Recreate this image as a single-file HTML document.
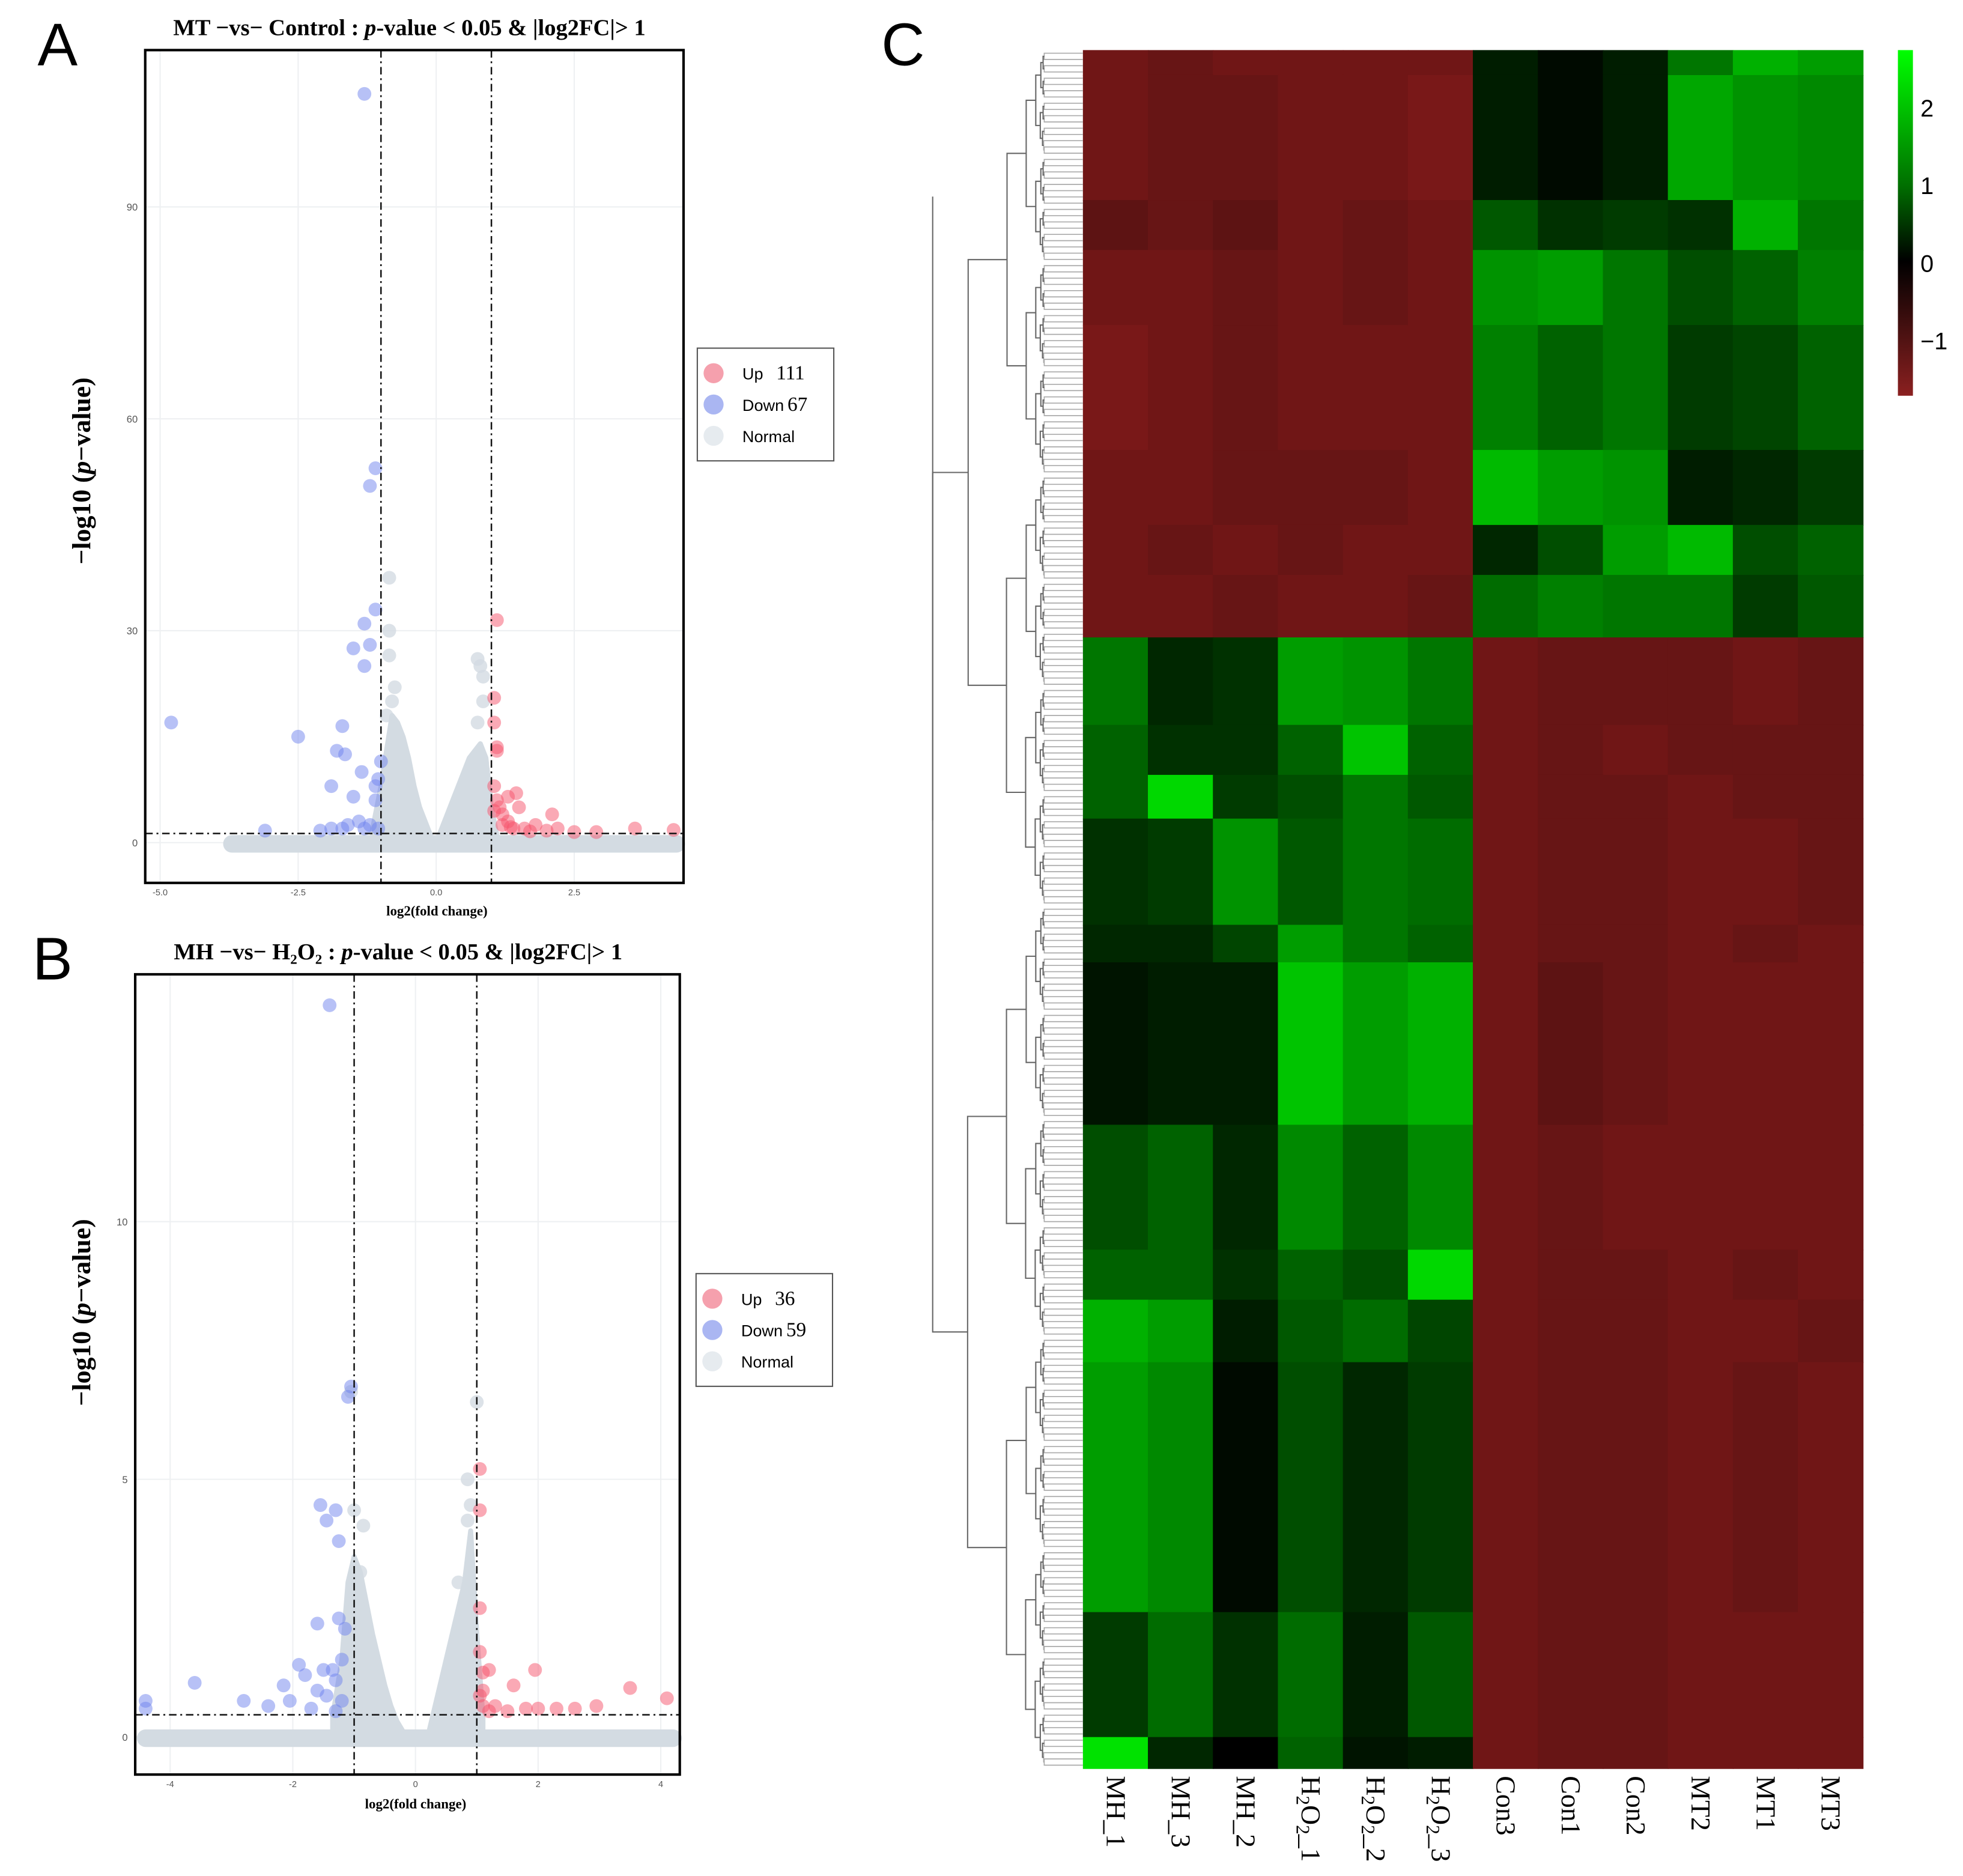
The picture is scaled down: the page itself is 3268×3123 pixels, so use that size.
<!DOCTYPE html>
<html><head><meta charset="utf-8"><style>
html,body{margin:0;padding:0;background:#fff;}
svg{display:block;}
text{font-family:"Liberation Sans",sans-serif;}
.serif{font-family:"Liberation Serif",serif;}
</style></head><body>
<svg id="fig" width="3268" height="3123" viewBox="0 0 1568 1498" preserveAspectRatio="none" xmlns="http://www.w3.org/2000/svg">
<rect width="1568" height="1498" fill="#fff"/>
<text x="30" y="52" font-size="48">A</text>
<text x="26" y="782" font-size="48">B</text>
<text x="704" y="52" font-size="48">C</text>
<text class="serif" x="327" y="28" font-size="18.5" font-weight="bold" text-anchor="middle">MT −vs− Control : <tspan font-style="italic">p</tspan>-value &lt; 0.05 &amp; |log2FC|&gt; 1</text>
<text class="serif" x="318" y="766" font-size="18.5" font-weight="bold" text-anchor="middle">MH −vs− H₂O₂ : <tspan font-style="italic">p</tspan>-value &lt; 0.05 &amp; |log2FC|&gt; 1</text>
<text class="serif" transform="translate(72,376) rotate(-90)" font-size="21" font-weight="bold" text-anchor="middle">−log10 (<tspan font-style="italic">p</tspan>−value)</text>
<text class="serif" transform="translate(72,1048) rotate(-90)" font-size="21" font-weight="bold" text-anchor="middle">−log10 (<tspan font-style="italic">p</tspan>−value)</text>
<text class="serif" x="349" y="731" font-size="11" font-weight="bold" text-anchor="middle">log2(fold change)</text>
<text class="serif" x="332" y="1444" font-size="11" font-weight="bold" text-anchor="middle">log2(fold change)</text>
<g id="panelA"></g>
<g id="panelB"></g>
<g id="heat"></g>
<g id="dendro"></g>
<g id="cbar"></g>
<g id="legA"></g>
<g id="legB"></g>
<g id="collabels"></g>
</svg>
<script>
// ---------- Volcano A data ----------
const aXTicks=[-5.0,-2.5,0.0,2.5];
const aYTicks=[0,30,60,90];
const aUp=[[1.1,31.5],[1.05,20.5],[1.05,17],[1.1,13.5],[1.1,13],[1.05,8],[1.1,6],[1.3,6.5],[1.45,7],[1.5,5],[1.2,4],[1.3,3],[1.6,2],[1.8,2.5],[2.1,4],[2.2,2],[2.5,1.5],[2.9,1.5],[3.6,2],[4.3,1.8],[1.4,2],[1.2,2.5],[1.7,1.6],[2.0,1.7],[1.05,4.5],[1.15,5],[1.35,2.2]];
const aDown=[[-1.3,106],[-1.1,53],[-1.2,50.5],[-1.1,33],[-1.3,31],[-1.5,27.5],[-1.2,28],[-1.3,25],[-4.8,17],[-2.5,15],[-1.7,16.5],[-1.8,13],[-1.65,12.5],[-1.0,11.5],[-1.35,10],[-1.05,9],[-1.9,8],[-1.1,8],[-1.5,6.5],[-1.1,6],[-1.4,3],[-1.6,2.5],[-1.2,2.5],[-1.9,2],[-2.1,1.7],[-3.1,1.7],[-1.05,2],[-1.3,2],[-1.7,2]];
const aGray=[[-0.85,37.5],[-0.85,30],[-0.85,26.5],[0.75,26],[0.8,25],[0.85,23.5],[-0.75,22],[-0.8,20],[0.85,20],[0.75,17],[-0.9,18]];
const aLeftX=[-1.15,-1.0,-0.9,-0.8,-0.7,-0.6,-0.5,-0.4,-0.3,-0.2,-0.1,0];
const aLeftY=[2,8,13,18,17,15,12,8,5,3,1,0];
const aRightX=[0,0.1,0.2,0.3,0.4,0.5,0.6,0.7,0.8,0.9,1.0,1.1];
const aRightY=[0,2,4,6,8,10,12,13,14,12,5,1];
const aCounts=[111,67];
// ---------- Volcano B data ----------
const bXTicks=[-4,-2,0,2,4];
const bYTicks=[0,5,10];
const bUp=[[1.05,5.2],[1.05,4.4],[1.05,2.5],[1.05,1.65],[1.2,1.3],[1.1,1.25],[1.95,1.3],[1.6,1.0],[1.1,0.9],[1.05,0.8],[1.1,0.6],[1.3,0.6],[1.5,0.5],[2.0,0.55],[2.3,0.55],[2.6,0.55],[2.95,0.6],[3.5,0.95],[4.1,0.75],[1.2,0.5],[1.8,0.55]];
const bDown=[[-1.4,14.2],[-1.05,6.8],[-1.1,6.6],[-1.55,4.5],[-1.3,4.4],[-1.45,4.2],[-1.25,3.8],[-1.6,2.2],[-1.25,2.3],[-1.15,2.1],[-1.2,1.5],[-1.9,1.4],[-1.8,1.2],[-1.5,1.3],[-1.35,1.3],[-1.3,1.1],[-2.15,1.0],[-1.6,0.9],[-1.45,0.8],[-3.6,1.05],[-2.8,0.7],[-2.4,0.6],[-2.05,0.7],[-1.2,0.7],[-4.4,0.55],[-4.4,0.7],[-1.7,0.55],[-1.3,0.5]];
const bGray=[[-1.05,6.7],[1.0,6.5],[-0.85,4.1],[-1.0,4.4],[0.85,5],[0.9,4.5],[0.85,4.2],[0.7,3],[-0.9,3.2]];
const bLeftX=[-1.35,-1.2,-1.1,-1,-0.9,-0.8,-0.7,-0.6,-0.5,-0.4,-0.3,-0.2,-0.1];
const bLeftY=[0.4,1.5,3,3.5,3.2,2.6,2,1.5,1,0.6,0.3,0.1,0];
const bRightX=[0.2,0.3,0.4,0.5,0.6,0.7,0.8,0.9,1.0,1.1];
const bRightY=[0,0.5,1.0,1.5,2.0,2.5,3,4,2,0.4];
const bCounts=[36,59];
// ---------- Heatmap data ----------
const columns=["MH_1","MH_3","MH_2","H2O2_1","H2O2_2","H2O2_3","Con3","Con1","Con2","MT2","MT1","MT3"];
const bandRows=[4,20,8,12,20,12,8,10,14,8,7,17,6,26,20,8,10,40,20,5];
const bandValues=[
[-1.2,-1.1,-1.2,-1.2,-1.2,-1.2,0.3,0.1,0.3,1.2,1.8,1.6],
[-1.2,-1.1,-1.1,-1.2,-1.2,-1.3,0.3,0.1,0.3,1.7,1.5,1.4],
[-1.0,-1.1,-1.0,-1.2,-1.1,-1.2,0.9,0.5,0.6,0.5,1.8,1.2],
[-1.2,-1.2,-1.1,-1.2,-1.1,-1.2,1.5,1.6,1.2,0.8,1.0,1.3],
[-1.3,-1.2,-1.1,-1.2,-1.2,-1.2,1.3,1.0,1.2,0.6,0.7,1.0],
[-1.2,-1.2,-1.1,-1.1,-1.1,-1.2,1.9,1.6,1.5,0.3,0.4,0.6],
[-1.2,-1.1,-1.2,-1.1,-1.2,-1.2,0.4,0.8,1.6,1.9,0.8,1.0],
[-1.2,-1.2,-1.1,-1.2,-1.2,-1.1,1.1,1.3,1.2,1.2,0.6,0.9],
[1.2,0.4,0.5,1.6,1.5,1.2,-1.2,-1.1,-1.1,-1.1,-1.2,-1.1],
[1.0,0.5,0.5,1.0,2.0,1.0,-1.2,-1.1,-1.2,-1.1,-1.1,-1.1],
[1.0,2.2,0.6,0.8,1.2,0.9,-1.2,-1.1,-1.1,-1.2,-1.1,-1.1],
[0.5,0.6,1.5,0.9,1.2,1.1,-1.2,-1.1,-1.1,-1.2,-1.2,-1.1],
[0.4,0.4,0.7,1.6,1.2,1.0,-1.2,-1.1,-1.1,-1.2,-1.1,-1.2],
[0.2,0.3,0.3,2.0,1.6,1.8,-1.2,-1.0,-1.1,-1.2,-1.2,-1.2],
[0.8,1.0,0.4,1.4,1.0,1.4,-1.2,-1.1,-1.2,-1.2,-1.2,-1.2],
[1.0,1.0,0.5,1.0,0.8,2.2,-1.2,-1.1,-1.1,-1.2,-1.1,-1.2],
[1.8,1.6,0.3,0.9,1.1,0.7,-1.2,-1.1,-1.1,-1.2,-1.2,-1.1],
[1.6,1.4,0.1,0.8,0.4,0.6,-1.2,-1.1,-1.1,-1.2,-1.1,-1.2],
[0.6,1.1,0.5,1.1,0.3,0.9,-1.2,-1.1,-1.1,-1.2,-1.2,-1.2],
[2.3,0.4,0.0,1.0,0.2,0.3,-1.2,-1.1,-1.1,-1.2,-1.2,-1.2]];
const cbarTicks=[2,1,0,-1];

const NS="http://www.w3.org/2000/svg";
function mk(tag,attrs,parent){const e=document.createElementNS(NS,tag);for(const k in attrs)e.setAttribute(k,attrs[k]);parent.appendChild(e);return e;}

function volcano(g,box,xr,yr,xt,yt,up,down,gray,lx,ly,rx,ry,floorX,hy,vlines,fmt){
  const sx=v=>box.x+(v-xr[0])/(xr[1]-xr[0])*box.w;
  const sy=v=>box.y+box.h-(v-yr[0])/(yr[1]-yr[0])*box.h;
  xt.forEach(t=>{const l=mk('line',{x1:sx(t),x2:sx(t),y1:box.y,y2:box.y+box.h,stroke:'#eef0f2','stroke-width':1},g);
    
    const tx=mk('text',{x:sx(t),y:box.y+box.h+10,'font-size':7,fill:'#555','text-anchor':'middle'},g);tx.textContent=fmt(t);
    });
  yt.forEach(t=>{const l=mk('line',{x1:box.x,x2:box.x+box.w,y1:sy(t),y2:sy(t),stroke:'#eef0f2','stroke-width':1},g);
    
    const tx=mk('text',{x:box.x-6,y:sy(t)+3,'font-size':8,fill:'#555','text-anchor':'end'},g);tx.textContent=t;
    });
  let p='M'+sx(lx[0])+','+sy(0);lx.forEach((x,i)=>p+=' L'+sx(x)+','+sy(ly[i]));p+=' L'+sx(lx[lx.length-1])+','+sy(0)+'Z';
  const c1=mk('path',{d:p,fill:'#d3dbe2',stroke:'#d3dbe2','stroke-width':4,'stroke-linejoin':'round'},g);
  p='M'+sx(rx[0])+','+sy(0);rx.forEach((x,i)=>p+=' L'+sx(x)+','+sy(ry[i]));p+=' L'+sx(rx[rx.length-1])+','+sy(0)+'Z';
  const c2=mk('path',{d:p,fill:'#d3dbe2',stroke:'#d3dbe2','stroke-width':4,'stroke-linejoin':'round'},g);
  const fl=mk('line',{x1:sx(floorX[0]),x2:sx(floorX[1]),y1:sy(0)+1,y2:sy(0)+1,stroke:'#d3dbe2','stroke-width':14,'stroke-linecap':'round'},g);
  
  gray.forEach(d=>{const c=mk('circle',{cx:sx(d[0]),cy:sy(d[1]),r:5.5,fill:'#d3dbe2','fill-opacity':0.8},g);});
  down.forEach(d=>{const c=mk('circle',{cx:sx(d[0]),cy:sy(d[1]),r:5.5,fill:'#6f84ee','fill-opacity':0.5},g);});
  up.forEach(d=>{const c=mk('circle',{cx:sx(d[0]),cy:sy(d[1]),r:5.5,fill:'#f5536b','fill-opacity':0.5},g);});
  vlines.forEach(v=>{const l=mk('line',{x1:sx(v),x2:sx(v),y1:box.y,y2:box.y+box.h,stroke:'#111','stroke-width':1.2,'stroke-dasharray':'6,3,1.5,3'},g);
    });
  const h=mk('line',{x1:box.x,x2:box.x+box.w,y1:sy(hy),y2:sy(hy),stroke:'#111','stroke-width':1.2,'stroke-dasharray':'6,3,1.5,3'},g);
  
  const f=mk('rect',{x:box.x,y:box.y,width:box.w,height:box.h,fill:'none',stroke:'#000','stroke-width':2},g);
  
}
volcano(document.getElementById('panelA'),{x:116,y:40,w:430,h:665},[-5.27,4.48],[-5.7,112.2],aXTicks,aYTicks,aUp,aDown,aGray,aLeftX,aLeftY,aRightX,aRightY,[-3.7,4.35],1.3,[-1,1],t=>t.toFixed(1));
volcano(document.getElementById('panelB'),{x:108,y:778,w:435,h:639},[-4.57,4.31],[-0.73,14.8],bXTicks,bYTicks,bUp,bDown,bGray,bLeftX,bLeftY,bRightX,bRightY,[-4.4,4.2],0.43,[-1,1],t=>t);

function legend(g,x,y,counts){
  const r=mk('rect',{x:x,y:y,width:109,height:90,fill:'#fff',stroke:'#555','stroke-width':1},g);
  
  const items=[['Up',counts[0],'#f5a0ad','legend-entry-up'],['Down',counts[1],'#aab6f2','legend-entry-down'],['Normal','','#e6ebef','legend-entry-normal']];
  items.forEach((it,i)=>{const cy=y+20+i*25;
    const c=mk('circle',{cx:x+13,cy:cy,r:8,fill:it[2]},g);
    const t=mk('text',{x:x+36,y:cy+5,'font-size':13},g);t.textContent=it[0];
    if(it[1]!==''){const n=mk('text',{x:x+(i==0?63:72),y:cy+5,'font-size':16,class:'serif'},g);n.textContent=it[1];}
  });
}
legend(document.getElementById('legA'),557,278,aCounts);
legend(document.getElementById('legB'),556,1017,bCounts);

function col(v){if(v<0){const t=Math.min(1,-v/1.5);return `rgb(${Math.round(140*t)},${Math.round(28*t)},${Math.round(28*t)})`;}
  const t=Math.min(1,v/2.6);return `rgb(0,${Math.round(255*t)},0)`;}
const hg=document.getElementById('heat');
const HX=865,HY=40,HW=623,HH=1372;
const totalRows=bandRows.reduce((a,b)=>a+b,0);
const rowH=HH/totalRows, colW=HW/columns.length;
let r0=0;
bandRows.forEach((n,bi)=>{
  bandValues[bi].forEach((v,ci)=>{
    const c=mk('rect',{x:HX+ci*colW,y:HY+r0*rowH,width:colW+0.5,height:n*rowH+0.5,fill:col(v)},hg);
    
  });
  r0+=n;
});
const cl=document.getElementById('collabels');
columns.forEach((name,i)=>{
  const x=HX+(i+0.5)*colW-7;
  const t=mk('text',{transform:`translate(${x},1418) rotate(90)`,'font-size':22,class:'serif'},cl);
  if(name.startsWith('H2O2')){t.innerHTML='H<tspan font-size="15" dy="4">2</tspan><tspan dy="-4">O</tspan><tspan font-size="15" dy="4">2</tspan><tspan dy="-4">'+name.slice(4)+'</tspan>';}
  else t.textContent=name;
  
});
const cb=document.getElementById('cbar');
const defs=mk('defs',{},cb);const lg=mk('linearGradient',{id:'cg',x1:0,y1:0,x2:0,y2:1},defs);
[[0,'#00ff00'],[0.39,'#007000'],[0.61,'#000000'],[1,'#8b2020']].forEach(s=>mk('stop',{offset:s[0],'stop-color':s[1]},lg));
const cr=mk('rect',{x:1516,y:40,width:12,height:276,fill:'url(#cg)'},cb);
const cyf=v=>210-v*62;
cbarTicks.forEach(v=>{const t=mk('text',{x:1534,y:cyf(v)+7,'font-size':19},cb);t.textContent=v<0?'−'+(-v):v;
  });
const dg=document.getElementById('dendro');
function tree(a,b,depth){
  const ym=(HY+a*rowH+HY+b*rowH)/2;
  if(b-a<=1){return {y:ym,x:865};}
  const m=Math.floor((a+b)/2);
  const L=tree(a,m,depth+1),R=tree(m,b,depth+1);
  const x=Math.max(745,835-(b-a)*0.45);
  const p=mk('path',{d:`M${L.x},${L.y} H${x} V${R.y} H${R.x}`,fill:'none',stroke:depth>6?'#aaa':'#666','stroke-width':depth>6?0.8:1},dg);
  
  return {y:(L.y+R.y)/2,x:x};
}
const rootNode=tree(0,totalRows,0);
const ln=mk('line',{x1:rootNode.x,x2:rootNode.x,y1:157,y2:655,stroke:'#666','stroke-width':1},dg);

</script>
</body></html>
